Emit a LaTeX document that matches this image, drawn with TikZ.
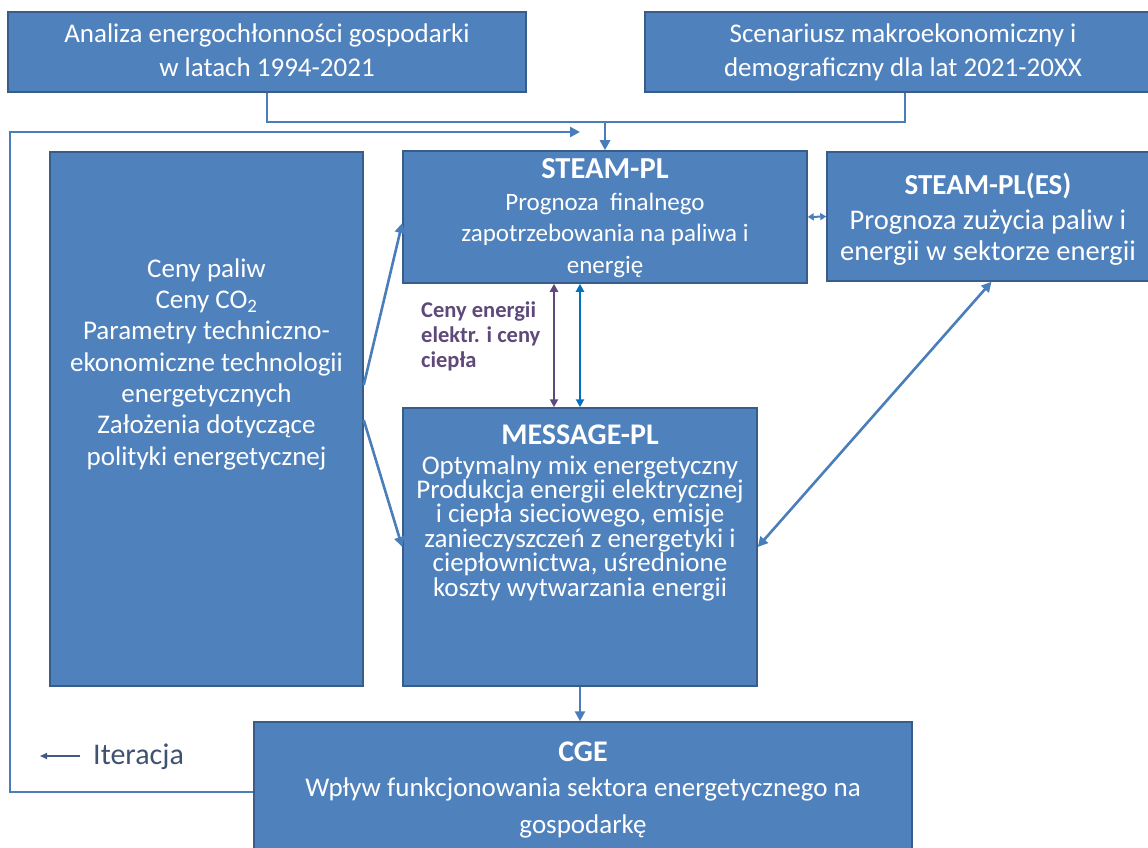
\documentclass[tikz,border=0pt]{standalone}
\usepackage{fontspec}
\setmainfont{Carlito}
\usetikzlibrary{arrows.meta,calc}
\definecolor{boxfill}{HTML}{4F81BD}
\definecolor{boxdraw}{HTML}{385D8A}
\definecolor{connc}{HTML}{4A7EBB}
\definecolor{purp}{HTML}{5F497A}
\definecolor{brblue}{HTML}{0070C0}
\definecolor{itertext}{HTML}{3F5270}
\tikzset{
  box/.style={draw=boxdraw, fill=boxfill, line width=1.5pt, inner sep=0pt},
  txt/.style={text=white, align=center, inner sep=0pt, anchor=base},
  conn/.style={draw=connc, line width=2.6pt},
  arr/.style={-{Triangle[length=10pt,width=10pt]}},
  darr/.style={{Triangle[length=10pt,width=10pt]}-{Triangle[length=10pt,width=10pt]}},
  sarr/.style={{Triangle[length=8pt,width=8pt]}-{Triangle[length=8pt,width=8pt]}},
}
\begin{document}
\begin{tikzpicture}[x=1pt,y=-1pt]
\useasboundingbox (0,0) rectangle (1148,848);
\clip (0,0) rectangle (1148,848);
\fill[white] (0,0) rectangle (1148,848);

% boxes
\node[box, minimum width=518, minimum height=80] (ana) at (267,52) {};
\node[box, minimum width=520, minimum height=80] (sce) at (905,52) {};
\node[box, minimum width=313, minimum height=534] (ceny) at (206.5,419) {};
\node[box, minimum width=404, minimum height=132] (steam) at (605,217) {};
\node[box, minimum width=325, minimum height=129] (es) at (989.5,216.5) {};
\node[box, minimum width=354, minimum height=278] (msg) at (580,547) {};
\node[box, minimum width=658, minimum height=140] (cge) at (583,792) {};

% texts (base anchor = baseline of the last line)
\node[txt, font=\fontsize{27}{34}\selectfont] (anaT) at (267,77)
  {Analiza energochłonności gospodarki\\w latach 1994-2021};
\node[txt, font=\fontsize{27}{34}\selectfont] (sceT) at (903,77)
  {Scenariusz makroekonomiczny i\\demograficzny dla lat 2021-20XX};
\node[txt, font=\fontsize{27}{31.3}\selectfont] (cenyT) at (206.5,465)
  {Ceny paliw\\Ceny CO\textsubscript{2}\\Parametry techniczno-\\ekonomiczne technologii\\energetycznych\\Założenia dotyczące\\polityki energetycznej};
\node[txt, font=\bfseries\fontsize{30.5}{30}\selectfont] (steamH) at (605,178) {STEAM-PL};
\node[txt, font=\fontsize{25}{31.5}\selectfont] (steamT) at (605,273)
  {Prognoza~~finalnego\\zapotrzebowania na paliwa i\\energię};
\node[txt, font=\bfseries\fontsize{29}{29}\selectfont] (esH) at (988,194) {STEAM-PL(ES)};
\node[txt, font=\fontsize{28.5}{31}\selectfont] (esT) at (988,260)
  {Prognoza zużycia paliw i\\energii w sektorze energii};
\node[txt, font=\bfseries\fontsize{30}{30}\selectfont] (msgH) at (580,444) {MESSAGE-PL};
\node[txt, font=\fontsize{27}{24.4}\selectfont] (msgT) at (580,596)
  {Optymalny mix energetyczny\\Produkcja energii elektrycznej\\i ciepła sieciowego, emisje\\zanieczyszczeń z energetyki i\\ciepłownictwa, uśrednione\\koszty wytwarzania energii};
\node[txt, font=\bfseries\fontsize{30}{30}\selectfont] (cgeH) at (583,761) {CGE};
\node[txt, font=\fontsize{27}{37}\selectfont] (cgeT) at (583,833)
  {Wpływ funkcjonowania sektora energetycznego na\\gospodarkę};

\node[anchor=base west, align=left, inner sep=0pt, text=purp,
      font=\bfseries\fontsize{22.5}{25}\selectfont] (lab) at (421,367)
  {Ceny energii\\elektr. i ceny\\ciepła};
\node[anchor=base west, inner sep=0pt, text=itertext,
      font=\fontsize{30}{30}\selectfont] (iter) at (93,764) {Iteracja};

% coordinates
\coordinate (bus) at (605,122);
\coordinate (lt) at (10,132);
\coordinate (itend) at (580,132);
\coordinate (ia) at (80,756);
\coordinate (ib) at (40,756);

% connectors
\draw[conn] (ana.south) |- (bus) -| (sce.south);
\draw[conn, arr] (bus) -- (steam.north);
\draw[conn, arr] (cge.west) -| (lt) -- (itend);
\draw[draw=itertext!80!connc, line width=1.6pt, -{Triangle[length=7pt,width=6pt]}] (ia) -- (ib);

\draw[conn, arr] ($(ceny.east)+(0,-34)$) -- ($(steam.west)+(0,6)$);
\draw[conn, arr] ($(ceny.east)+(0,1)$) -- (msg.west);
\draw[conn, darr] ($(es.south)+(2,0)$) -- (msg.east);
\draw[draw=connc, line width=2pt, {Triangle[length=6pt,width=7pt]}-{Triangle[length=6pt,width=7pt]}] (steam.east) -- (es.west);

\draw[draw=purp, line width=2.2pt, sarr] ($(steam.south)+(-51,0)$) -- ($(msg.north)+(-26,0)$);
\draw[draw=brblue, line width=2.2pt, sarr] (msg.north |- steam.south) -- (msg.north);
\draw[conn, arr] (msg.south) -- (msg.south |- cge.north);
\end{tikzpicture}
\end{document}
